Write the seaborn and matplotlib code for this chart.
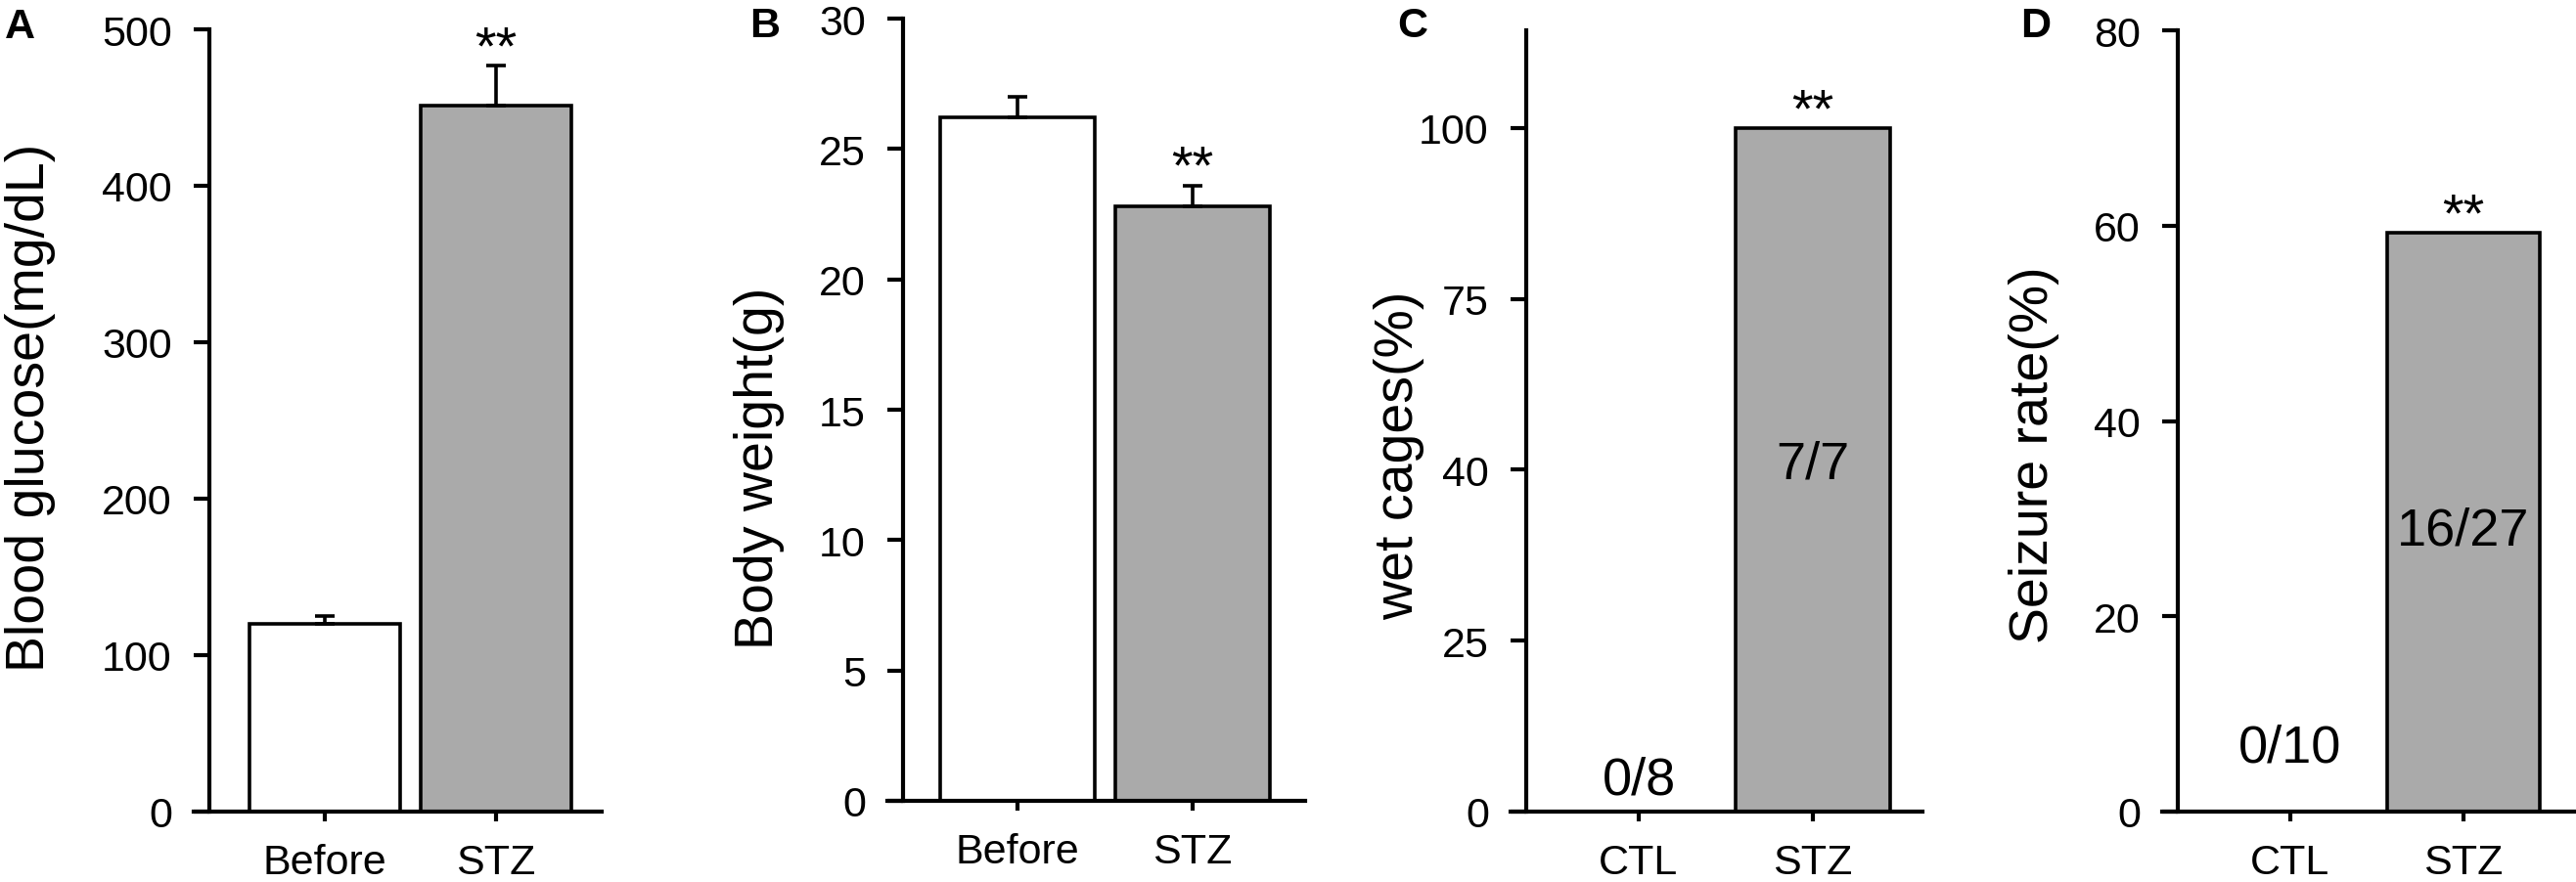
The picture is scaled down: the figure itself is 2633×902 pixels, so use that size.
import numpy as np
import pandas as pd
import matplotlib
matplotlib.use("Agg")
import matplotlib.pyplot as plt
import seaborn as sns

# ---------------- data ----------------
glucose_groups = ["Before", "STZ"]
glucose_mean = [120, 451]
glucose_sem = [5, 26]

weight_groups = ["Before", "STZ"]
weight_mean = [26.2, 22.8]
weight_sem = [0.8, 0.8]

wet_groups = ["CTL", "STZ"]
wet_pct = [0, 100]
wet_counts = ["0/8", "7/7"]
wet_ticks = [0, 25, 50, 75, 100]
wet_tick_labels = ["0", "25", "40", "75", "100"]

seizure_groups = ["CTL", "STZ"]
seizure_pct = [0, 59.26]
seizure_counts = ["0/10", "16/27"]

glucose_ticks = [0, 100, 200, 300, 400, 500]
weight_ticks = [0, 5, 10, 15, 20, 25, 30]
seizure_ticks = [0, 20, 40, 60, 80]

bar_colors = ["#ffffff", "#aaaaaa"]

# ---------------- style ----------------
sns.set_theme(style="ticks")
plt.rcParams["font.family"] = ["Liberation Sans", "DejaVu Sans"]
plt.rcParams["axes.linewidth"] = 3.0

W, H = 2633, 903
fig = plt.figure(figsize=(W / 100, H / 100), dpi=100)

panels = [
    dict(letter="A", letter_xy=(5, 39), groups=glucose_groups, vals=glucose_mean, errs=glucose_sem,
         ylim=(0, 500), ticks=glucose_ticks, ticklabels=[str(t) for t in glucose_ticks],
         ylabel="Blood glucose(mg/dL)", ylabel_px=(45, 417),
         box=(198, 615, 831, 31), centers=(332, 507), counts=None, count_y=None),
    dict(letter="B", letter_xy=(766, 38), groups=weight_groups, vals=weight_mean, errs=weight_sem,
         ylim=(0, 30), ticks=weight_ticks, ticklabels=[str(t) for t in weight_ticks],
         ylabel="Body weight(g)", ylabel_px=(790, 479),
         box=(907, 1334, 820, 20), centers=(1040, 1219), counts=None, count_y=None),
    dict(letter="C", letter_xy=(1428, 38), groups=wet_groups, vals=wet_pct, errs=None,
         ylim=(0, 114.3), ticks=wet_ticks, ticklabels=wet_tick_labels,
         ylabel="wet cages(%)", ylabel_px=(1444, 466),
         box=(1544, 1965, 831, 32), centers=(1675, 1853),
         counts=wet_counts, count_y=(2.6, 48.9)),
    dict(letter="D", letter_xy=(2065, 38), groups=seizure_groups, vals=seizure_pct, errs=None,
         ylim=(0, 80), ticks=seizure_ticks, ticklabels=[str(t) for t in seizure_ticks],
         ylabel="Seizure rate(%)", ylabel_px=(2093, 465),
         box=(2210, 2631, 831, 32), centers=(2341, 2518),
         counts=seizure_counts, count_y=(5.2, 27.4)),
]

for p in panels:
    left, right, bottom, top = p["box"]
    ax = fig.add_axes([left / W, 1 - bottom / H, (right - left) / W, (bottom - top) / H])
    df = pd.DataFrame({"group": p["groups"], "value": p["vals"]})
    sns.barplot(data=df, x="group", y="value", hue="group", palette=bar_colors,
                order=p["groups"], hue_order=p["groups"],
                edgecolor="black", linewidth=2.6, width=0.885, saturation=1,
                legend=False, ax=ax)
    c0, c1 = p["centers"]
    s = c1 - c0
    ax.set_xlim((left - c0) / s, (right - c0) / s)
    ax.set_ylim(*p["ylim"])
    ax.set_yticks(p["ticks"])
    ax.set_yticklabels(p["ticklabels"])
    ax.set_xlabel("")
    ax.set_ylabel("")

    tick_len_px = 16
    ax.spines["left"].set_position(("axes", tick_len_px / (right - left)))
    for sp in ("top", "right"):
        ax.spines[sp].set_visible(False)
    for sp in ("left", "bottom"):
        ax.spines[sp].set_linewidth(3.0)
        ax.spines[sp].set_color("black")
    ax.tick_params(axis="y", direction="out", length=11.5, width=3.0, pad=16,
                   labelsize=31, colors="black")
    ax.tick_params(axis="x", direction="out", length=7, width=3.0, pad=16,
                   labelsize=31, colors="black")

    x_pos = np.arange(len(p["groups"]))
    if p["errs"] is not None:
        ax.errorbar(x_pos, p["vals"], yerr=[np.zeros(len(p["errs"])), p["errs"]],
                    fmt="none", ecolor="black", elinewidth=2.6, capsize=7,
                    capthick=2.6, zorder=3)
        top_val = p["vals"][1] + p["errs"][1]
    else:
        top_val = p["vals"][1]
    ax.annotate("**", xy=(1, top_val), xytext=(0, 2), textcoords="offset points",
                ha="center", va="baseline", fontsize=40, color="black")

    if p["counts"] is not None:
        for i, (txt, yv) in enumerate(zip(p["counts"], p["count_y"])):
            ax.text(i, yv, txt, ha="center", va="baseline", fontsize=39, color="black")

    # y label
    lx, ly = p["ylabel_px"]
    ax.set_ylabel(p["ylabel"], fontsize=40, color="black", va="baseline")
    ax.yaxis.set_label_coords((lx - left) / (right - left), (bottom - ly) / (bottom - top))

    # panel letter
    fx, fy = p["letter_xy"]
    fig.text(fx / W, 1 - fy / H, p["letter"], fontsize=31, fontweight="bold",
             ha="left", va="baseline", color="black")

fig.savefig("out.png", dpi=100, facecolor="white")
